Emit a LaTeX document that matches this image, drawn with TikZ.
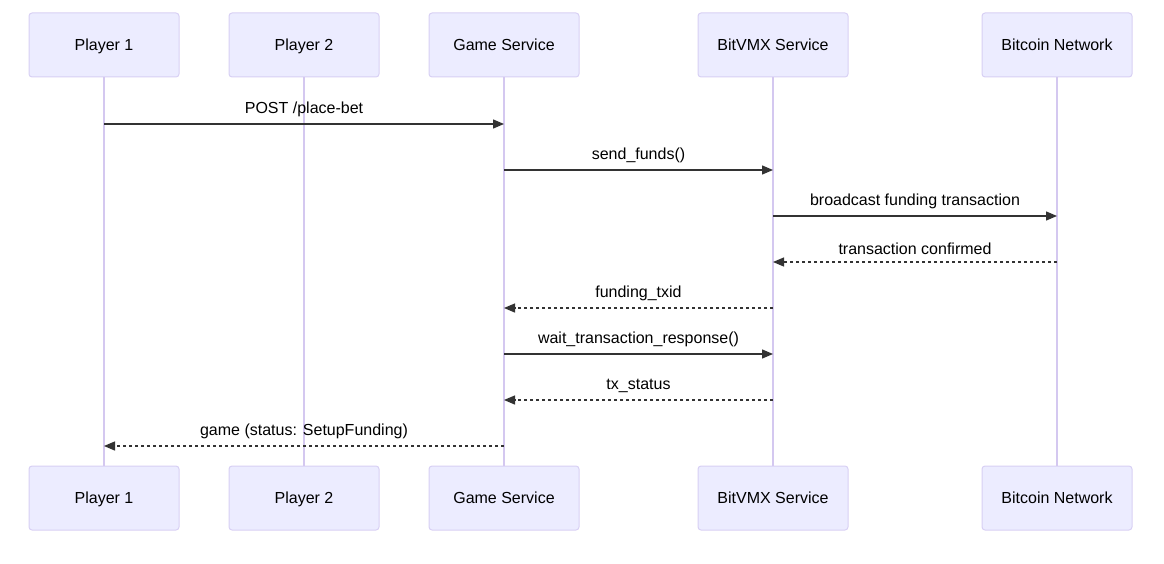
\documentclass[tikz,border=0pt]{standalone}
\usepackage{fontspec}
\setmainfont{Liberation Sans}
\usetikzlibrary{arrows.meta}
\definecolor{actorfill}{HTML}{ECECFF}
\definecolor{actorline}{HTML}{D8D0F4}
\definecolor{lifecol}{HTML}{D4C8F0}
\definecolor{msgcol}{HTML}{333333}

\begin{document}
\begin{tikzpicture}[x=1pt,y=-1pt,
  actor/.style={draw=actorline,fill=actorfill,line width=1pt,rounded corners=3pt,
    minimum width=150pt,minimum height=64pt,text height=11pt,text depth=0pt,
    font=\fontsize{16}{19}\selectfont},
  lifeline/.style={draw=lifecol,line width=1.5pt},
  msg/.style={draw=msgcol,line width=1.3pt,-{Triangle[length=11pt,width=9pt]}},
  reply/.style={msg,dash pattern=on 3pt off 3pt},
  lbl/.style={midway,anchor=south,yshift=7pt,inner sep=0pt,text=black,
    font=\fontsize{16}{19}\selectfont}]
  \useasboundingbox (0,0) rectangle (1164,564);
  \foreach \n/\x/\t in {pa/104/Player 1,pb/304/Player 2,gs/504/Game Service,
                        bv/773/BitVMX Service,bn/1057/Bitcoin Network}{
    \node[actor] (\n) at (\x,45) {\t};
    \node[actor] (\n b) at (\x,498) {\t};
    \draw[lifeline] (\n.south) -- (\n b.north);
  }
  \foreach \i/\y in {1/124,2/170,3/216,4/262,5/308,6/354,7/400,8/446}
    \coordinate (m\i) at (0,\y);
  \draw[msg] (pa |- m1) -- (gs |- m1) node[lbl] {POST /place-bet};
  \draw[msg] (gs |- m2) -- (bv |- m2) node[lbl] {send\_funds()};
  \draw[msg] (bv |- m3) -- (bn |- m3) node[lbl] {broadcast funding transaction};
  \draw[reply] (bn |- m4) -- (bv |- m4) node[lbl] {transaction confirmed};
  \draw[reply] (bv |- m5) -- (gs |- m5) node[lbl] {funding\_txid};
  \draw[msg] (gs |- m6) -- (bv |- m6) node[lbl] {wait\_transaction\_response()};
  \draw[reply] (bv |- m7) -- (gs |- m7) node[lbl] {tx\_status};
  \draw[reply] (gs |- m8) -- (pa |- m8) node[lbl] {game (status: SetupFunding)};
\end{tikzpicture}
\end{document}
